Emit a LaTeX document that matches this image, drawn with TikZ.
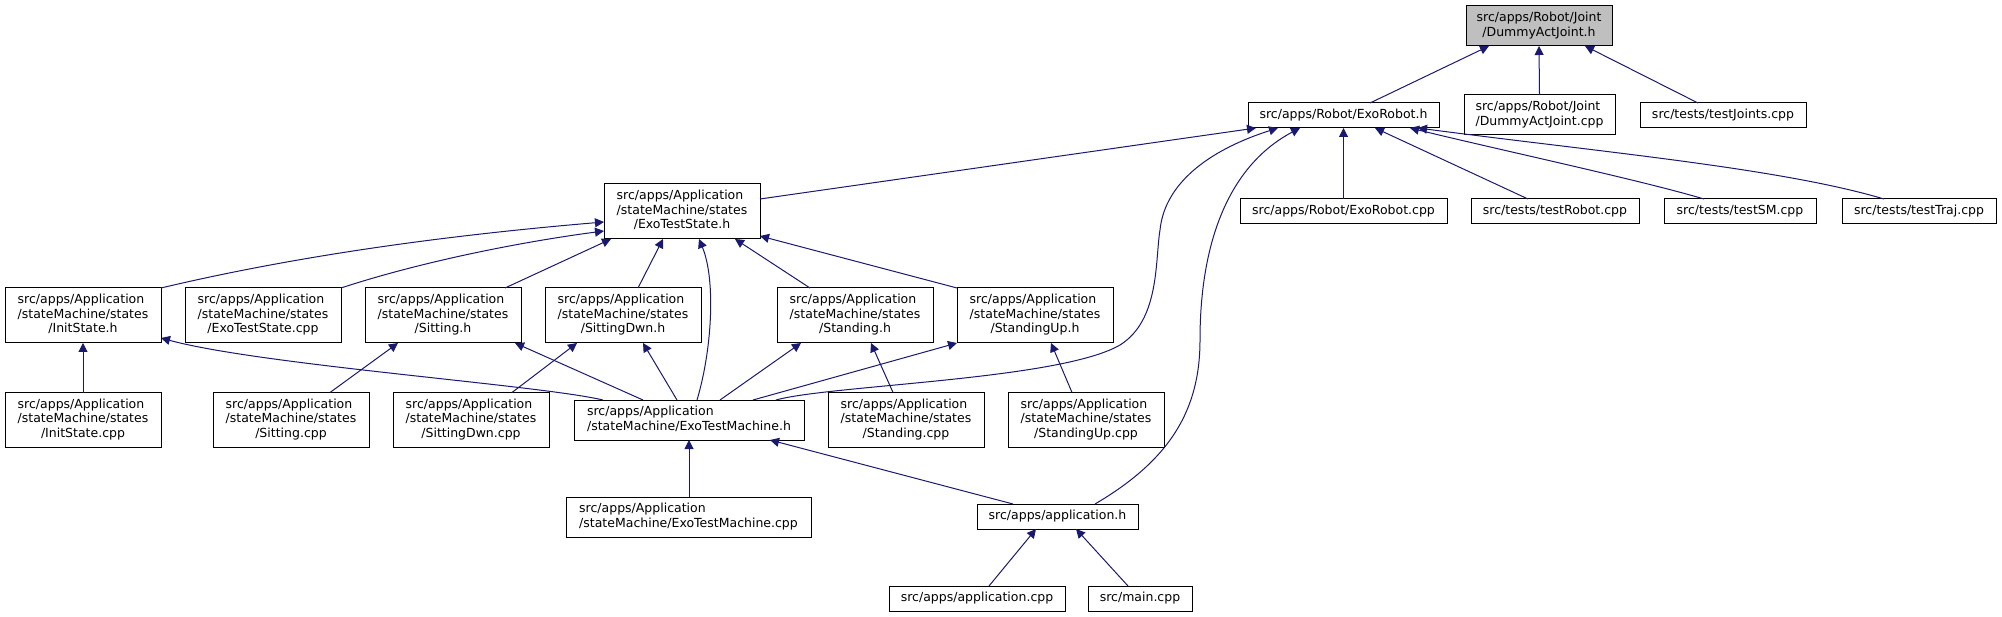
\documentclass[tikz,border=0pt]{standalone}
\usepackage{fontspec}
\setmainfont{DejaVu Sans}
\usetikzlibrary{arrows.meta}
\definecolor{edgecol}{HTML}{191970}
\definecolor{rootfill}{HTML}{BFBFBF}
\newcommand\lthree[3]{\begin{tabular}{@{}l@{}}#1\\#2\\\multicolumn{1}{@{}c@{}}{#3}\end{tabular}}
\newcommand\ltwo[2]{\begin{tabular}{@{}l@{}}#1\\\multicolumn{1}{@{}c@{}}{#2}\end{tabular}}
\tikzset{
  box/.style={draw=black, line width=1pt, fill=white, inner sep=0pt, outer sep=0pt,
    font=\fontsize{12.5}{14.5}\selectfont},
  boxthree/.style={box, minimum width=156pt, minimum height=55pt},
  boxone/.style={box, minimum height=25pt},
  boxtwo/.style={box, minimum height=40pt},
  edge/.style={draw=edgecol, line width=1pt, -{Triangle[length=9pt,width=9pt]}},
}
\begin{document}
\begin{tikzpicture}[x=1pt,y=-1pt]
\useasboundingbox (0,0) rectangle (2002,617);
% row 0
\node[boxtwo, minimum width=146pt, fill=rootfill] (djh) at (1539,26) {\ltwo{src/apps/Robot/Joint}{/DummyActJoint.h}};
% row 1
\node[boxone, minimum width=191pt] (erh) at (1343.5,115.5) {src/apps/Robot/ExoRobot.h};
\node[boxtwo, minimum width=151pt] (djc) at (1539.5,115) {\ltwo{src/apps/Robot/Joint}{/DummyActJoint.cpp}};
\node[boxone, minimum width=166pt] (tjc) at (1723,115.5) {src/tests/testJoints.cpp};
% row 2
\node[boxthree] (ets) at (682,211.5) {\lthree{src/apps/Application}{/stateMachine/states}{/ExoTestState.h}};
\node[boxone, minimum width=207pt] (erc) at (1343.5,211.5) {src/apps/Robot/ExoRobot.cpp};
\node[boxone, minimum width=168pt] (trc) at (1555,211.5) {src/tests/testRobot.cpp};
\node[boxone, minimum width=152pt] (tsm) at (1740,211.5) {src/tests/testSM.cpp};
\node[boxone, minimum width=154pt] (ttr) at (1919,211.5) {src/tests/testTraj.cpp};
% row 3
\node[boxthree] (ish) at (83,315.5) {\lthree{src/apps/Application}{/stateMachine/states}{/InitState.h}};
\node[boxthree] (etsc) at (263,315.5) {\lthree{src/apps/Application}{/stateMachine/states}{/ExoTestState.cpp}};
\node[boxthree] (sih) at (443,315.5) {\lthree{src/apps/Application}{/stateMachine/states}{/Sitting.h}};
\node[boxthree] (sdh) at (623,315.5) {\lthree{src/apps/Application}{/stateMachine/states}{/SittingDwn.h}};
\node[boxthree] (sth) at (855,315.5) {\lthree{src/apps/Application}{/stateMachine/states}{/Standing.h}};
\node[boxthree] (suh) at (1035,315.5) {\lthree{src/apps/Application}{/stateMachine/states}{/StandingUp.h}};
% row 4
\node[boxthree] (isc) at (83,420) {\lthree{src/apps/Application}{/stateMachine/states}{/InitState.cpp}};
\node[boxthree] (sic) at (291,420) {\lthree{src/apps/Application}{/stateMachine/states}{/Sitting.cpp}};
\node[boxthree] (sdc) at (471,420) {\lthree{src/apps/Application}{/stateMachine/states}{/SittingDwn.cpp}};
\node[boxtwo, minimum width=230pt] (etm) at (689,420) {\ltwo{src/apps/Application}{/stateMachine/ExoTestMachine.h}};
\node[boxthree] (stc) at (906,420) {\lthree{src/apps/Application}{/stateMachine/states}{/Standing.cpp}};
\node[boxthree] (suc) at (1086,420) {\lthree{src/apps/Application}{/stateMachine/states}{/StandingUp.cpp}};
% row 5
\node[boxtwo, minimum width=245pt] (etmc) at (688.5,517) {\ltwo{src/apps/Application}{/stateMachine/ExoTestMachine.cpp}};
\node[boxone, minimum width=161pt] (aph) at (1057.5,516.5) {src/apps/application.h};
% row 6
\node[boxone, minimum width=176pt] (apc) at (977,598.5) {src/apps/application.cpp};
\node[boxone, minimum width=104pt] (mai) at (1140,598.5) {src/main.cpp};
% edges
\draw[edge] (erh.north -| 1370,0) -- (djh.south -| 1489,0);
\draw[edge] (djc.north) -- (djh.south);
\draw[edge] (tjc.north -| 1698,0) -- (djh.south -| 1585,0);
\draw[edge] (ets.east |- 0,199) -- (erh.south -| 1256,0);
\draw[edge] (etm.north -| 776,0) .. controls (830,385) and (1060,380) .. (1120,345)
  .. controls (1160,320) and (1155,260) .. (1160,230)
  .. controls (1165,180) and (1215,148) .. (erh.south -| 1278,0);
\draw[edge] (aph.north -| 1095,0) .. controls (1170,460) and (1200,410) .. (1200,340)
  .. controls (1200,240) and (1230,165) .. (erh.south -| 1300,0);
\draw[edge] (erc.north) -- (erh.south);
\draw[edge] (trc.north -| 1528,0) -- (erh.south -| 1375,0);
\draw[edge] (tsm.north -| 1704,0) .. controls (1640,180) and (1500,150) .. (erh.south -| 1410,0);
\draw[edge] (ttr.north -| 1884,0) .. controls (1780,168) and (1600,152) .. (erh.south -| 1418,0);
\draw[edge] (ish.north east) .. controls (300,255) and (450,235) .. (ets.west |- 0,222);
\draw[edge] (etsc.north east) .. controls (420,262) and (520,242) .. (ets.west |- 0,231);
\draw[edge] (sih.north -| 505,0) -- (ets.south -| 611,0);
\draw[edge] (sdh.north -| 638,0) -- (ets.south -| 663,0);
\draw[edge] (etm.north -| 697,0) .. controls (712,350) and (716,280) .. (ets.south -| 699,0);
\draw[edge] (sth.north -| 810,0) -- (ets.south -| 735,0);
\draw[edge] (suh.north west) -- (ets.east |- 0,236);
\draw[edge] (isc.north) -- (ish.south);
\draw[edge] (etm.north -| 603,0) .. controls (540,385) and (260,365) .. (ish.east |- 0,338);
\draw[edge] (sic.north -| 330,0) -- (sih.south -| 398,0);
\draw[edge] (etm.north -| 643,0) -- (sih.south -| 515,0);
\draw[edge] (sdc.north -| 512,0) -- (sdh.south -| 577,0);
\draw[edge] (etm.north -| 677,0) -- (sdh.south -| 643,0);
\draw[edge] (etm.north -| 720,0) -- (sth.south -| 801,0);
\draw[edge] (stc.north -| 893,0) -- (sth.south -| 871,0);
\draw[edge] (etm.north -| 753,0) -- (suh.south west);
\draw[edge] (suc.north -| 1072,0) -- (suh.south -| 1051,0);
\draw[edge] (etmc.north -| 689,0) -- (etm.south -| 689,0);
\draw[edge] (aph.north -| 1013,0) -- (etm.south -| 770,0);
\draw[edge] (apc.north -| 989,0) -- (aph.south -| 1036,0);
\draw[edge] (mai.north -| 1128,0) -- (aph.south -| 1076,0);
\end{tikzpicture}
\end{document}
